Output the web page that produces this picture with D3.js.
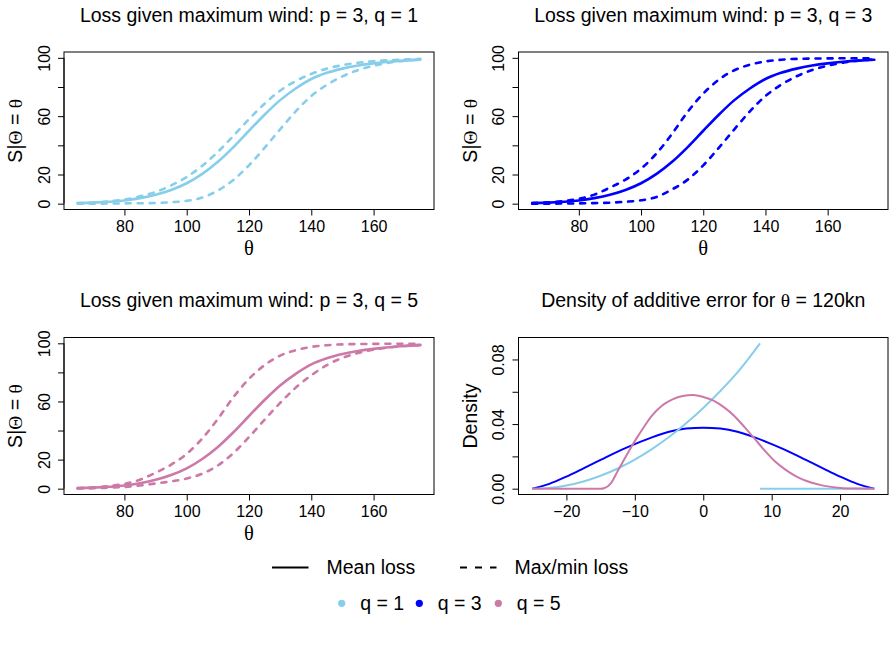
<!DOCTYPE html>
<html>
<head>
<meta charset="utf-8">
<script src="https://cdn.jsdelivr.net/npm/d3@7"></script>
<style>
  body { margin: 0; background: #fff; }
  svg { display: block; }
  text { font-family: "Liberation Sans", Arial, sans-serif; fill: #000; }
  .greek { font-family: "Liberation Serif", "DejaVu Serif", serif; }
</style>
</head>
<body>
<svg id="chart" width="895" height="645"></svg>
<script>
// Wind speed grid (knots) the loss curves are read at
const wind = [65, 70, 75, 80, 85, 90, 95, 100, 105, 110, 115, 120, 125, 130, 135, 140, 145, 150, 155, 160, 165, 170, 175];

// Mean loss (%) - same curve in all three loss panels
const meanLoss = [0.4, 0.7, 1.3, 2.2, 3.8, 6.1, 9.4, 14, 20.4, 28.7, 38.8, 50, 61, 71, 79, 85.5, 89.7, 92.6, 94.7, 96.2, 97.3, 98.1, 98.7];

// Max / min loss per q
const upperQ1 = [0.4, 0.8, 1.6, 2.8, 5, 8, 12.5, 18.3, 26, 35.5, 46.5, 58, 68.5, 77.5, 84, 89, 92.6, 95, 96.6, 97.7, 98.4, 98.9, 99.3];
const lowerQ1 = [0, 0, 0.1, 0.2, 0.3, 0.5, 1, 1.9, 4.2, 9, 16.3, 26.3, 38.3, 51, 63.3, 73.8, 81.5, 87.3, 91.6, 94.6, 96.7, 98.1, 99];
const upperQ3 = [0.4, 0.9, 1.8, 3.3, 6.2, 11, 16.5, 24, 34.5, 48, 63, 75.5, 85, 91.5, 95.3, 97.5, 98.7, 99.3, 99.5, 99.6, 99.7, 99.7, 99.7];
const lowerQ3 = [0, 0, 0.1, 0.2, 0.4, 0.7, 1.3, 2.3, 4.6, 9.8, 16.5, 26.3, 38.3, 51, 63.3, 73.8, 81.5, 87.3, 91.6, 94.6, 96.7, 98.1, 99];
const upperQ5 = [0.4, 0.9, 1.8, 3.3, 6.2, 11, 16.5, 24, 34.5, 48, 63, 75.5, 85, 91.5, 95.3, 97.5, 98.7, 99.3, 99.5, 99.6, 99.7, 99.7, 99.7];
const lowerQ5 = [0.1, 0.3, 0.7, 1.2, 2.2, 3.6, 5, 7, 10.3, 16, 24.5, 35.5, 47.5, 59, 69.5, 78, 85, 90, 93.3, 95.6, 97.1, 98.2, 99];

// Density of additive error at theta = 120kn
const errQ1 = [-25, -22.5, -20, -17.5, -15, -12.5, -10, -7.5, -5, -2.5, 0, 2.5, 5, 8.3];
const densQ1 = [0, 0.0005, 0.002, 0.0045, 0.008, 0.0125, 0.018, 0.0245, 0.032, 0.0405, 0.05, 0.0605, 0.072, 0.09];
const errQ1Tail = [8.3, 25];
const densQ1Tail = [0, 0];
const errQ3 = [-25, -22.5, -20, -17.5, -15, -12.5, -10, -7.5, -5, -2.5, 0, 2.5, 5, 7.5, 10, 12.5, 15, 17.5, 20, 22.5, 25];
const densQ3 = [0, 0.003, 0.0075, 0.0126, 0.0178, 0.023, 0.0276, 0.0318, 0.0352, 0.0372, 0.0378, 0.0372, 0.0352, 0.0318, 0.0276, 0.023, 0.0178, 0.0126, 0.0075, 0.003, 0];
const errQ5 = [-25, -20, -15, -14.5, -13.5, -12.5, -11.5, -10.5, -9.5, -8.5, -7.5, -6, -4.5, -3, -1.5, 0, 1.5, 3, 4.5, 6, 7.5, 9, 10.5, 12, 13.5, 15, 17.5, 20, 22.5, 25];
const densQ5 = [0, 0, 0, 0.0003, 0.0033, 0.011, 0.0185, 0.026, 0.0328, 0.0393, 0.0452, 0.0515, 0.0553, 0.0574, 0.058, 0.0568, 0.0545, 0.0505, 0.0452, 0.0383, 0.031, 0.0235, 0.0168, 0.0118, 0.0078, 0.0049, 0.0019, 0.0005, 0.0001, 0];

// Axis ticks
const windTicks = [80, 100, 120, 140, 160];
const lossTicks = [0, 20, 40, 60, 80, 100];
const lossTickLabels = ['0', '20', '', '60', '', '100'];
const errTicks = [-20, -10, 0, 10, 20];
const errTickLabels = ['\u221220', '\u221210', '0', '10', '20'];
const densTicks = [0, 0.02, 0.04, 0.06, 0.08];
const densTickLabels = ['0.00', '', '0.04', '', '0.08'];

// Legend
const qLabels = ['q = 1', 'q = 3', 'q = 5'];
const qColors = ['#87CEEB', '#0000FF', '#CC79A7'];
const lineLegend = ['Mean loss', 'Max/min loss'];

const CFG = {
    boxes: [
        { left: 64, top: 52, right: 434, bottom: 209.5 },
        { left: 518.5, top: 52, right: 888, bottom: 209.5 },
        { left: 64, top: 337.5, right: 434, bottom: 494.5 },
        { left: 518.5, top: 337.5, right: 888, bottom: 494.5 }
    ],
    titleSize: 19.5,
    labelSize: 19.5,
    tickSize: 16,
    lossWidth: 2.6,
    dash: '5,7',
    densWidth: 2
};

const svg = d3.select('#chart');
let clipId = 0;

function panelFrame(box, xDomain, yDomain) {
    const x = d3.scaleLinear().domain(xDomain).range([box.left, box.right]);
    const y = d3.scaleLinear().domain(yDomain).range([box.bottom, box.top]);
    const id = 'clip' + (++clipId);
    svg.append('clipPath').attr('id', id)
        .append('rect')
        .attr('x', box.left).attr('y', box.top)
        .attr('width', box.right - box.left).attr('height', box.bottom - box.top);
    const plot = svg.append('g').attr('clip-path', `url(#${id})`);
    return { x, y, plot };
}

function drawAxes(box, x, y, xt, xl, yt, yl) {
    const xAxis = svg.append('g')
        .attr('transform', `translate(0,${box.bottom})`)
        .call(d3.axisBottom(x).tickValues(xt).tickSize(6).tickPadding(5)
            .tickFormat((d, i) => xl[i]));
    xAxis.select('.domain').attr('d', `M${x(xt[0])},0H${x(xt[xt.length - 1])}`);
    xAxis.selectAll('text').style('font-size', CFG.tickSize + 'px');

    const yAxis = svg.append('g')
        .attr('transform', `translate(${box.left},0)`)
        .call(d3.axisLeft(y).tickValues(yt).tickSize(6)
            .tickFormat((d, i) => yl[i]));
    yAxis.select('.domain').attr('d', `M0,${y(yt[0])}V${y(yt[yt.length - 1])}`);
    yAxis.selectAll('text')
        .attr('x', null).attr('dy', null)
        .attr('transform', 'translate(-14.5,0) rotate(-90)')
        .attr('text-anchor', 'middle')
        .style('font-size', CFG.tickSize + 'px');
    svg.selectAll('.tick line, .domain').attr('stroke', '#000');

    svg.append('rect')
        .attr('x', box.left).attr('y', box.top)
        .attr('width', box.right - box.left).attr('height', box.bottom - box.top)
        .attr('fill', 'none').attr('stroke', '#000').attr('stroke-width', 1);
}

function drawTitle(box, parts) {
    const t = svg.append('text')
        .attr('x', (box.left + box.right) / 2)
        .attr('y', box.top - 30.5)
        .attr('text-anchor', 'middle')
        .style('font-size', CFG.titleSize + 'px');
    parts.forEach(p => t.append('tspan').attr('class', p.greek ? 'greek' : null).text(p.text));
}

function drawLossPanel(box, qIdx, upper, lower) {
    const { x, y, plot } = panelFrame(box, [60.6, 179.4], [-4, 104]);
    const line = d3.line().x(d => x(d[0])).y(d => y(d[1])).curve(d3.curveMonotoneX);
    const color = qColors[qIdx];

    plot.append('path').datum(d3.zip(wind, meanLoss))
        .attr('d', line).attr('fill', 'none').attr('stroke', color)
        .attr('stroke-width', CFG.lossWidth).attr('stroke-linecap', 'round');
    [upper, lower].forEach(series => {
        plot.append('path').datum(d3.zip(wind, series))
            .attr('d', line).attr('fill', 'none').attr('stroke', color)
            .attr('stroke-width', CFG.lossWidth).attr('stroke-linecap', 'round')
            .attr('stroke-dasharray', CFG.dash);
    });

    drawAxes(box, x, y, windTicks, windTicks.map(String), lossTicks, lossTickLabels);
    drawTitle(box, [{ text: 'Loss given maximum wind: p = 3, ' + qLabels[qIdx] }]);

    // axis titles
    svg.append('text').attr('class', 'greek')
        .attr('x', (box.left + box.right) / 2).attr('y', box.bottom + 45.5)
        .attr('text-anchor', 'middle').style('font-size', (CFG.labelSize + 1) + 'px')
        .text('\u03b8');
    const yl = svg.append('text')
        .attr('transform', `translate(${box.left - 42},${(box.top + box.bottom) / 2}) rotate(-90)`)
        .attr('text-anchor', 'middle').style('font-size', CFG.labelSize + 'px');
    yl.append('tspan').text('S|');
    yl.append('tspan').attr('class', 'greek').text('\u0398');
    yl.append('tspan').text(' = ');
    yl.append('tspan').attr('class', 'greek').text('\u03b8');
}

function drawDensityPanel(box) {
    const { x, y, plot } = panelFrame(box, [-27, 27], [-0.0036, 0.0936]);
    const line = d3.line().x(d => x(d[0])).y(d => y(d[1])).curve(d3.curveMonotoneX);
    const series = [
        [errQ3, densQ3, 1],
        [errQ1, densQ1, 0],
        [errQ1Tail, densQ1Tail, 0],
        [errQ5, densQ5, 2]
    ];
    series.forEach(([xs, ys, q]) => {
        plot.append('path').datum(d3.zip(xs, ys))
            .attr('d', line).attr('fill', 'none').attr('stroke', qColors[q])
            .attr('stroke-width', CFG.densWidth);
    });

    drawAxes(box, x, y, errTicks, errTickLabels, densTicks, densTickLabels);
    drawTitle(box, [
        { text: 'Density of additive error for ' },
        { text: '\u03b8', greek: true },
        { text: ' = 120kn' }
    ]);
    svg.append('text')
        .attr('transform', `translate(${box.left - 42},${(box.top + box.bottom) / 2}) rotate(-90)`)
        .attr('text-anchor', 'middle').style('font-size', CFG.labelSize + 'px')
        .text('Density');
}

drawLossPanel(CFG.boxes[0], 0, upperQ1, lowerQ1);
drawLossPanel(CFG.boxes[1], 1, upperQ3, lowerQ3);
drawLossPanel(CFG.boxes[2], 2, upperQ5, lowerQ5);
drawDensityPanel(CFG.boxes[3]);

// Legend: line types
const lineLeg = svg.append('g');
const lineLegX = [272, 460];
lineLegend.forEach((label, i) => {
    lineLeg.append('line')
        .attr('x1', lineLegX[i]).attr('x2', lineLegX[i] + 36.5)
        .attr('y1', 567.5).attr('y2', 567.5)
        .attr('stroke', '#000').attr('stroke-width', 2)
        .attr('stroke-dasharray', i === 1 ? '7,8' : null);
    lineLeg.append('text')
        .attr('x', lineLegX[i] + 54.5).attr('y', 573.5)
        .style('font-size', CFG.labelSize + 'px')
        .text(label);
});

// Legend: colours
const qLegX = [341.7, 419.3, 498.3];
qLabels.forEach((label, i) => {
    lineLeg.append('circle')
        .attr('cx', qLegX[i]).attr('cy', 603.3).attr('r', 3.6)
        .attr('fill', qColors[i]);
    lineLeg.append('text')
        .attr('x', qLegX[i] + 18.5).attr('y', 610)
        .style('font-size', CFG.labelSize + 'px')
        .text(label);
});
</script>
</body>
</html>
